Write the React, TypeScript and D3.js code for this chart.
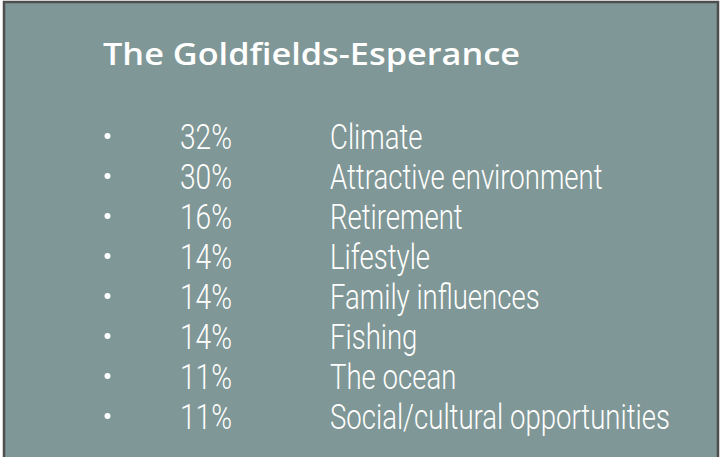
import React, { useEffect, useRef, useState } from "react";
import * as d3 from "d3";

const title = "The Goldfields-Esperance";
const percents = ["32%", "30%", "16%", "14%", "14%", "14%", "11%", "11%"];
const reasons = [
  "Climate",
  "Attractive environment",
  "Retirement",
  "Lifestyle",
  "Family influences",
  "Fishing",
  "The ocean",
  "Social/cultural opportunities",
];

const W = 720;
const H = 457;
const bodyFont = "Roboto, 'Open Sans', sans-serif";

export default function App() {
  const svgRef = useRef<SVGSVGElement | null>(null);
  const [sx, setSx] = useState(0.68);
  const [px, setPx] = useState(0.68);

  useEffect(() => {
    if (!svgRef.current) return;
    const svg = d3.select(svgRef.current);
    const measure = (s: string) => {
      const t = svg
        .append("text")
        .attr("x", 10)
        .attr("y", 200)
        .attr("font-family", bodyFont)
        .attr("font-weight", 300)
        .attr("font-size", 36)
        .attr("fill", "none")
        .text(s);
      const len = (t.node() as SVGTextElement).getComputedTextLength();
      t.remove();
      return len;
    };
    const a = measure(reasons[7]);
    const b = measure(percents[0]);
    if (a > 0) setSx(340 / a);
    if (b > 0) setPx(52 / b);
  }, []);

  const rows = d3.range(reasons.length).map(String);
  const y = d3.scalePoint<string>().domain(rows).range([149, 429]);

  return (
    <svg
      ref={svgRef}
      width={W}
      height={H}
      style={{ position: "absolute", left: 0, top: 0, display: "block" }}
    >
      <rect x={0} y={0} width={W} height={H} fill="#ffffff" />
      <rect
        x={4}
        y={2}
        width={714}
        height={H + 20}
        fill="#7f9796"
        stroke="#4e4e4e"
        strokeWidth={2.5}
      />
      <text
        x={103}
        y={65}
        fill="#ffffff"
        fontFamily="'Open Sans', 'DejaVu Sans', sans-serif"
        fontWeight={600}
        fontSize={30}
        textLength={417}
        lengthAdjust="spacingAndGlyphs"
      >
        {title}
      </text>

      {rows.map((r, i) => {
        const yy = y(r) as number;
        return (
          <g key={r}>
            <circle cx={107.5} cy={yy - 13} r={3} fill="#ffffff" />
            <text
              transform={`translate(180,${yy}) scale(${px},1)`}
              fill="#ffffff"
              fontFamily={bodyFont}
              fontWeight={300}
              fontSize={36}
            >
              {percents[i]}
            </text>
            <text
              transform={`translate(330,${yy}) scale(${sx},1)`}
              fill="#ffffff"
              fontFamily={bodyFont}
              fontWeight={300}
              fontSize={36}
            >
              {reasons[i]}
            </text>
          </g>
        );
      })}
    </svg>
  );
}
